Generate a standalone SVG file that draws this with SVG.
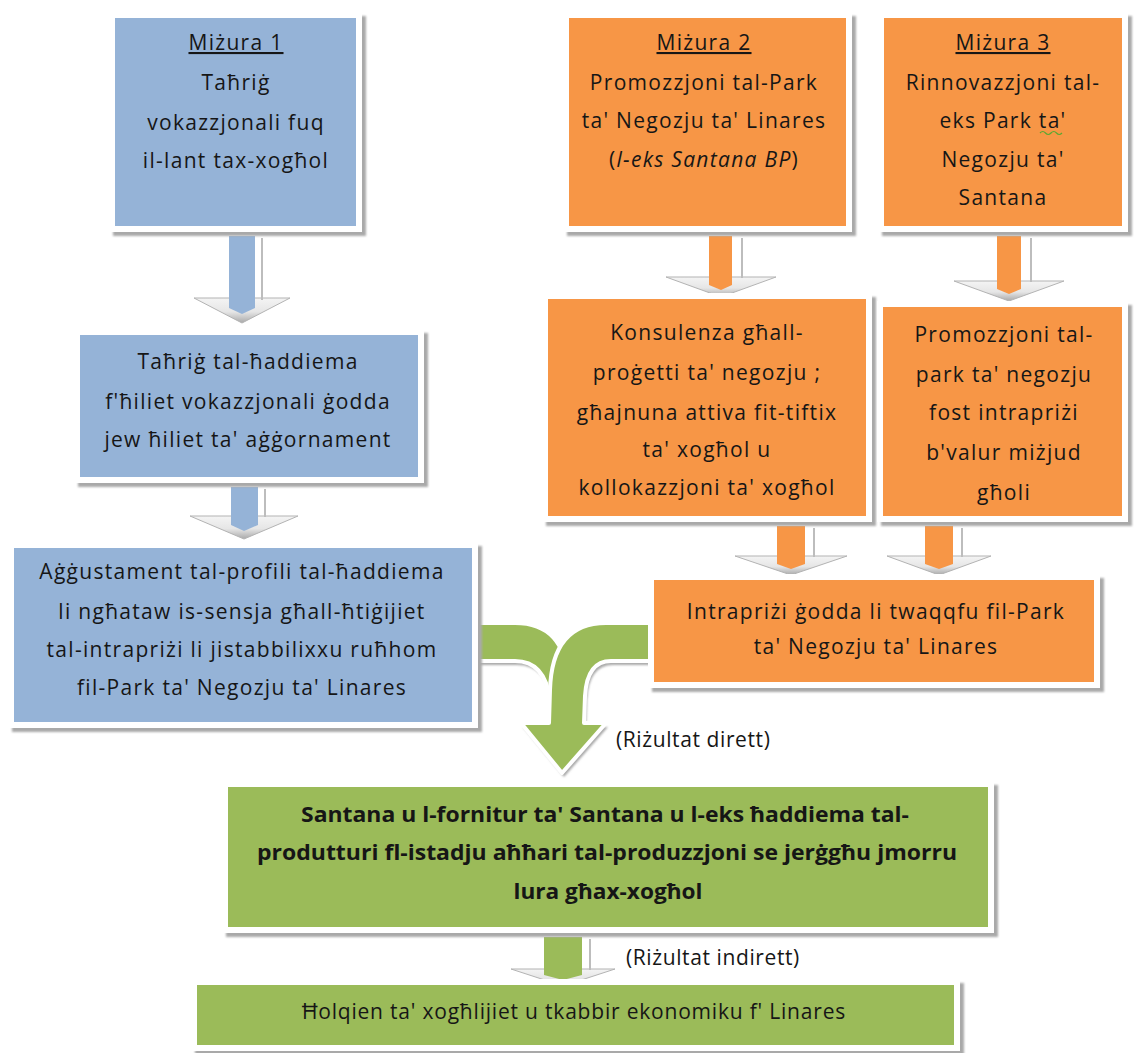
<svg xmlns="http://www.w3.org/2000/svg" width="1134" height="1053" viewBox="0 0 1134 1053">
<defs>
<style>
text{font-family:"Open Sans","Liberation Sans","DejaVu Sans",sans-serif;font-size:21px;letter-spacing:1.3px;fill:#161616;text-anchor:middle}
.b{font-weight:bold;letter-spacing:0}
.u{text-decoration:underline}
.i{font-style:italic}
.lbl{text-anchor:start}
.shadow{fill:#a9a9a9;filter:url(#blur)}
.frame{fill:#ffffff}
.blue{fill:#95b3d7}
.orange{fill:#f79646}
.green{fill:#9bbb59}
.head{fill:url(#hg);stroke:#b3b3b3;stroke-width:1}
.edge{stroke:#bdbdbd;stroke-width:2}
.garrow{fill:#9bbb59;stroke:#ffffff;stroke-width:4;stroke-linejoin:round}
.gshadow{fill:#a9a9a9;filter:url(#blur)}
.squig{fill:none;stroke:#5aa832;stroke-width:1.2}
</style>
<filter id="blur" x="-5%" y="-5%" width="110%" height="110%"><feGaussianBlur stdDeviation="1.2"/></filter>
<linearGradient id="hg" x1="0" y1="0" x2="0" y2="1">
<stop offset="0" stop-color="#f4f4f4"/>
<stop offset="0.55" stop-color="#e6e6e6"/>
<stop offset="1" stop-color="#a9a9a9"/>
</linearGradient>
</defs>
<rect width="1134" height="1053" fill="#ffffff"/>

<g id="connectors">
<g id="a1">
<polygon class="head" points="194,298 290,298 242,323"/>
<polygon class="blue" points="229,236 255,236 255,308 242,314 229,308"/>
<line class="edge" x1="262" y1="238" x2="262" y2="300"/>
</g>
<g id="a2">
<polygon class="head" points="190,516 298,516 244,539"/>
<polygon class="blue" points="231,487 258,487 258,525 244,531 231,525"/>
<line class="edge" x1="265" y1="489" x2="265" y2="517"/>
</g>
<g id="a3">
<polygon class="head" points="666,277 776,277 721,297"/>
<polygon class="orange" points="709,236 732,236 732,285 721,290 709,285"/>
<line class="edge" x1="742" y1="238" x2="742" y2="278"/>
</g>
<g id="a4">
<polygon class="head" points="954,281 1064,281 1009,301"/>
<polygon class="orange" points="997,236 1021,236 1021,289 1009,294 997,289"/>
<line class="edge" x1="1031" y1="238" x2="1031" y2="282"/>
</g>
<g id="a5">
<polygon class="head" points="735,556 847,556 791,575"/>
<polygon class="orange" points="777,526 805,526 805,564 791,569 777,564"/>
<line class="edge" x1="814" y1="528" x2="814" y2="557"/>
</g>
<g id="a6">
<polygon class="head" points="887,556 991,556 939,575"/>
<polygon class="orange" points="925,526 953,526 953,564 939,569 925,564"/>
<line class="edge" x1="962" y1="528" x2="962" y2="557"/>
</g>
<g id="a7">
<polygon class="head" points="511,969 615,969 563,986"/>
<polygon class="green" points="544,937 582,937 582,975 563,980 544,975"/>
<line class="edge" x1="590" y1="939" x2="590" y2="970"/>
</g>
<g id="a8">
<path class="gshadow" transform="translate(2,4)" d="M476,623 H515 Q565,623 568,680 L550,700 Q545,661 515,661 H476 Z"/>
<path class="garrow" d="M476,623 H515 Q565,623 568,680 L550,700 Q545,661 515,661 H476 Z"/>
<path class="gshadow" transform="translate(2,4)" d="M656,623 H606 Q552,623 550,690 L549,723 H521 L562,773 L606,723 H584 L585,696 Q587,661 611,661 H656 Z"/>
<path class="garrow" d="M656,623 H606 Q552,623 550,690 L549,723 H521 L562,773 L606,723 H584 L585,696 Q587,661 611,661 H656 Z"/>
</g>
<text class="lbl" x="616" y="747" style="letter-spacing:0.6px">(Riżultat dirett)</text>
<text class="lbl" x="626" y="965" style="letter-spacing:0.6px">(Riżultat indirett)</text>
</g>

<g id="n1">
<rect class="shadow" x="113" y="16" width="253" height="220"/>
<rect class="frame" x="109" y="12" width="253" height="220"/>
<rect class="blue" x="115" y="18" width="241" height="208"/>
<text x="236" y="50" class="u">Miżura 1</text>
<text x="236" y="90">Taħriġ</text>
<text x="236" y="130">vokazzjonali fuq</text>
<text x="236" y="168">il-lant tax-xogħol</text>
</g>

<g id="n2">
<rect class="shadow" x="78" y="333" width="350" height="154"/>
<rect class="frame" x="74" y="329" width="350" height="154"/>
<rect class="blue" x="80" y="335" width="338" height="142"/>
<text x="248" y="369">Taħriġ  tal-ħaddiema</text>
<text x="248" y="409">f'ħiliet vokazzjonali ġodda</text>
<text x="248" y="447">jew ħiliet ta' aġġornament</text>
</g>

<g id="n3">
<rect class="shadow" x="12" y="546" width="470" height="186"/>
<rect class="frame" x="8" y="542" width="470" height="186"/>
<rect class="blue" x="14" y="548" width="458" height="174"/>
<text x="242" y="579">Aġġustament tal-profili  tal-ħaddiema</text>
<text x="242" y="619">li ngħataw is-sensja għall-ħtiġijiet</text>
<text x="242" y="657">tal-intrapriżi  li jistabbilixxu ruħhom</text>
<text x="242" y="695">fil-Park ta' Negozju ta' Linares</text>
</g>

<g id="m2">
<rect class="shadow" x="567" y="16" width="289" height="220"/>
<rect class="frame" x="563" y="12" width="289" height="220"/>
<rect class="orange" x="569" y="18" width="277" height="208"/>
<text x="704" y="50" class="u">Miżura 2</text>
<text x="704" y="90">Promozzjoni  tal-Park</text>
<text x="704" y="128">ta' Negozju ta' Linares</text>
<text x="704" y="167">(<tspan class="i">l-eks Santana BP</tspan>)</text>
</g>

<g id="m3">
<rect class="shadow" x="882" y="16" width="250" height="220"/>
<rect class="frame" x="878" y="12" width="250" height="220"/>
<rect class="orange" x="884" y="18" width="238" height="208"/>
<text x="1003" y="50" class="u">Miżura 3</text>
<text x="1003" y="90">Rinnovazzjoni  tal-</text>
<text x="1003" y="128">eks Park ta'</text>
<path class="squig" d="M1040,133 q2.75,-3 5.5,0 t5.5,0 t5.5,0 t5.5,0"/>
<text x="1003" y="167">Negozju ta'</text>
<text x="1003" y="205">Santana</text>
</g>

<g id="k">
<rect class="shadow" x="546" y="297" width="330" height="229"/>
<rect class="frame" x="542" y="293" width="330" height="229"/>
<rect class="orange" x="548" y="299" width="318" height="217"/>
<text x="707" y="340">Konsulenza għall-</text>
<text x="707" y="380">proġetti ta' negozju ;</text>
<text x="707" y="420">għajnuna attiva fit-tiftix</text>
<text x="707" y="457">ta' xogħol u</text>
<text x="707" y="495">kollokazzjoni ta' xogħol</text>
</g>

<g id="p">
<rect class="shadow" x="881" y="305" width="251" height="221"/>
<rect class="frame" x="877" y="301" width="251" height="221"/>
<rect class="orange" x="883" y="307" width="239" height="209"/>
<text x="1004" y="342">Promozzjoni tal-</text>
<text x="1004" y="382">park ta' negozju</text>
<text x="1004" y="420">fost intrapriżi</text>
<text x="1004" y="460">b'valur  miżjud</text>
<text x="1004" y="500">għoli</text>
</g>

<g id="i">
<rect class="shadow" x="652" y="578" width="452" height="114"/>
<rect class="frame" x="648" y="574" width="452" height="114"/>
<rect class="orange" x="654" y="580" width="440" height="102"/>
<text x="876" y="619">Intrapriżi  ġodda li twaqqfu fil-Park</text>
<text x="876" y="654">ta' Negozju ta' Linares</text>
</g>

<g id="s">
<rect class="shadow" x="226" y="785" width="772" height="152"/>
<rect class="frame" x="222" y="781" width="772" height="152"/>
<rect class="green" x="228" y="787" width="760" height="140"/>
<text x="605" y="822" class="b" textLength="608" lengthAdjust="spacingAndGlyphs">Santana  u l-fornitur ta' Santana  u l-eks ħaddiema  tal-</text>
<text x="607" y="860" class="b" textLength="700" lengthAdjust="spacingAndGlyphs">produtturi  fl-istadju aħħari  tal-produzzjoni  se jerġgħu jmorru</text>
<text x="608" y="899" class="b" textLength="189" lengthAdjust="spacingAndGlyphs">lura għax-xogħol</text>
</g>

<g id="h">
<rect class="shadow" x="195" y="983" width="769" height="72"/>
<rect class="frame" x="191" y="979" width="769" height="72"/>
<rect class="green" x="197" y="985" width="757" height="60"/>
<text x="574" y="1019" style="letter-spacing:0.8px">Ħolqien ta'  xogħlijiet u tkabbir ekonomiku f' Linares</text>
</g>
</svg>
